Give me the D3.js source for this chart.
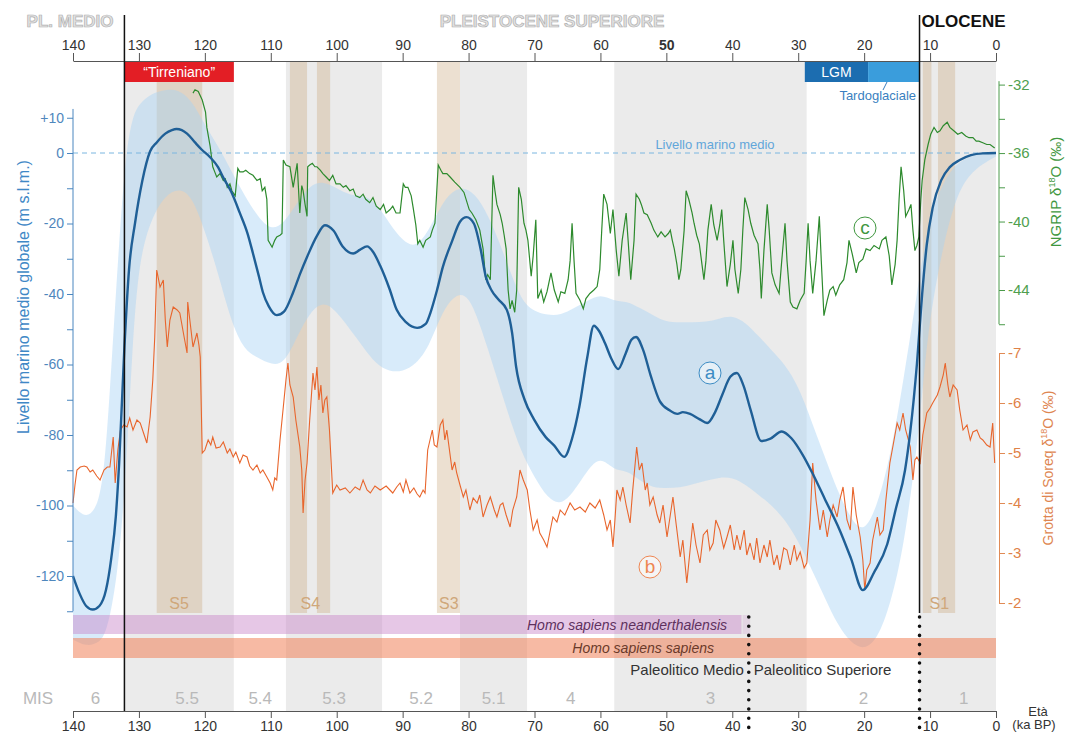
<!DOCTYPE html>
<html>
<head>
<meta charset="utf-8">
<script src="https://cdn.jsdelivr.net/npm/d3@7"></script>
<style>
  body { margin: 0; background: #fff; }
  svg { font-family: "Liberation Sans", Arial, sans-serif; }
</style>
</head>
<body>
<script>
(function(){
    //marine isotope stages: boundaries (ka BP) and labels
    var misBounds = [140, 132.2, 115.6, 107.7, 93.1, 81.3, 71.1, 57.9, 28.7, 11.6, 0];
    var misLabels = ["6", "5.5", "5.4", "5.3", "5.2", "5.1", "4", "3", "2", "1"];
    var misLabelAges = [136.6, 122.7, 111.6, 100.4, 87.2, 76.2, 64.5, 43.3, 20.1, 4.9];

    //sapropel layers (start, end ka) and their labels
    var sapropels = [[127.3, 120.4], [107.1, 104.5], [103.0, 101.0], [84.8, 81.3], [11.1, 9.8], [8.8, 6.2]];
    var sapropelLabels = [["S5", 123.9], ["S4", 104.0], ["S3", 83.0], ["S1", 8.6]];

    //tick labels
    var ageTicks = [140, 130, 120, 110, 100, 90, 80, 70, 60, 50, 40, 30, 20, 10, 0];
    var seaTicks = [10, 0, -10, -20, -30, -40, -50, -60, -70, -80, -90, -100, -110, -120, -130];
    var ngripTicks = [-32, -34, -36, -38, -40, -42, -44, -46];
    var soreqTicks = [-7, -6, -5, -4, -3, -2];

    //(a) global mean sea level, m  [age, m]
    var seaLevel = [
        [140,-120],[139,-125],[138,-128.5],[137,-129.5],[136,-128.5],[135,-124],[134.2,-115],[133.5,-103],
        [133,-88],[132.2,-55],[131.5,-33],[130.6,-20],[129.5,-8],[128.3,0.5],[127.3,3],[126,5.5],[125,6.5],
        [124.3,6.8],[123.5,6.5],[122.7,5.5],[121.5,3],[120.5,1],[119.2,-1.2],[118,-4],[117.2,-7],[116,-11],
        [114.7,-17],[113.5,-23],[112.7,-28.5],[111.8,-35],[111.2,-39.5],[110.3,-43.5],[109.1,-46],[108,-45],
        [106.6,-39.5],[105.5,-34],[104.5,-29.5],[103,-23.5],[101.8,-20.5],[100.5,-22],[99.1,-26.5],[97.5,-28.5],
        [96.5,-27.5],[95.4,-26.5],[94.5,-28],[93.4,-32],[92,-38.5],[90.9,-44.5],[89.5,-48],[87.8,-49.6],
        [86.5,-48.5],[85.8,-45.4],[84.8,-39],[83.9,-32.3],[82.5,-25],[81.3,-19.5],[80.3,-18.2],[79.2,-20],
        [78.2,-27],[77.4,-35],[76.5,-39],[75.5,-41.5],[74.2,-44.5],[73.4,-51],[72.8,-60.5],[71.5,-70],
        [70.1,-75.5],[68.3,-80.6],[67,-83],[65.5,-86.2],[64.3,-81],[63.2,-72],[62,-58],[61,-49],[60.2,-50.5],
        [59.3,-54],[58.3,-58.5],[57.3,-61.3],[56.2,-57],[55.3,-53],[54.6,-52.2],[53.5,-56],[52.4,-63],
        [51,-70.4],[49.5,-73],[48.3,-74],[47.5,-73.5],[46.4,-74],[45,-75.5],[43.8,-76.6],[42.6,-73.5],
        [41.5,-68.5],[40.3,-63.5],[39.3,-62.4],[38.3,-66],[37.2,-73],[35.6,-81.7],[34.2,-81],[32.5,-79],
        [31,-81],[29.3,-85.7],[27.8,-91],[26,-98],[23.7,-107],[22,-115],[20.2,-124],[18.5,-119],[16.5,-111],
        [15.2,-101],[13.8,-90],[13,-79],[12.0,-60],[11.2,-40],[10.5,-26],[9.6,-15.5],[8.3,-7.7],[7,-4],
        [5.5,-2],[3.8,-0.6],[2,-0.1],[0,0]
    ];

    //sea level uncertainty  [age, upper m, lower m]
    var seaBand = [
        [140,-100,-138],[138,-104,-140],[136,-100,-139],[135,-85,-136],[134,-55,-128],[133,-25,-115],
        [132,0,-92],[131,10,-55],[130,14,-30],[128,17,-18],[126,18,-12],[124,18,-10],[122,15,-12],[120,8,-22],
        [118,2,-34],[116,-5,-48],[114,-12,-56],[112,-18,-58],[110,-22,-60],[108,-20,-60],[106,-14,-52],
        [104,-9,-45],[102,-8,-42],[100,-10,-45],[98,-12,-50],[96,-12,-55],[94,-14,-60],[92,-20,-62],
        [90,-25,-62],[88,-27,-60],[86,-22,-55],[84,-14,-45],[82,-10,-40],[80,-10,-40],[78,-14,-50],
        [76,-22,-62],[74,-32,-74],[72,-42,-85],[70,-45,-92],[68,-46,-98],[66,-46,-100],[64,-44,-96],
        [62,-42,-90],[60,-40,-86],[58,-42,-90],[56,-42,-90],[54,-44,-93],[52,-46,-95],[50,-48,-95],
        [48,-48,-95],[46,-48,-94],[44,-48,-93],[42,-47,-92],[40,-46,-92],[38,-48,-94],[36,-52,-97],
        [34,-56,-100],[32,-60,-104],[30,-66,-110],[28,-76,-118],[26,-86,-126],[24,-96,-134],[22,-104,-139],
        [20,-108,-141],[18,-100,-138],[16,-86,-128],[14,-64,-112],[12,-40,-84],[11,-28,-64],[10,-18,-46],
        [8,-8,-26],[6,-3,-12],[4,-1,-6],[2,0,-3],[0,0,-1]
    ];

    //(b) Soreq cave speleothem d18O, permil  [age, value]
    var soreq = [
        [140.0,-4.0],[139.7,-4.36],[139.4,-4.66],[138.9,-4.72],[138.3,-4.74],[137.9,-4.72],[137.4,-4.62],
        [137.0,-4.66],[136.4,-4.54],[135.9,-4.46],[135.3,-4.66],[134.8,-4.72],[134.4,-4.72],[133.9,-5.32],
        [133.6,-4.4],[133.2,-5.06],[132.8,-5.46],[132.3,-5.56],[131.8,-5.52],[131.4,-5.7],[130.9,-5.46],
        [130.3,-5.66],[129.8,-5.6],[129.2,-5.36],[128.8,-5.2],[128.3,-5.72],[127.9,-6.46],[127.6,-7.32],
        [127.3,-8.66],[126.8,-8.32],[126.3,-8.46],[126.0,-7.66],[125.7,-7.12],[125.3,-7.66],[124.8,-7.92],
        [124.2,-7.86],[123.8,-7.8],[123.2,-7.36],[122.7,-7.0],[122.6,-8.02],[122.1,-7.46],[121.8,-7.12],
        [121.2,-7.4],[120.9,-7.16],[120.7,-6.92],[120.4,-5.0],[120.0,-5.06],[119.5,-5.26],[119.1,-5.16],
        [118.8,-5.32],[118.3,-5.1],[117.7,-5.12],[117.2,-5.22],[116.6,-5.0],[116.2,-5.08],[115.7,-4.92],
        [115.3,-5.02],[114.7,-4.8],[114.2,-4.96],[113.6,-4.92],[113.2,-4.74],[112.7,-4.66],[112.1,-4.76],
        [111.6,-4.6],[111.2,-4.66],[110.6,-4.52],[110.1,-4.4],[109.7,-4.26],[109.4,-4.5],[109.1,-4.46],
        [108.6,-5.26],[108.1,-5.92],[107.7,-6.46],[107.4,-6.8],[107.1,-6.36],[106.6,-6.12],[106.2,-5.66],
        [105.6,-5.12],[105.3,-4.66],[105.1,-3.8],[104.8,-4.46],[104.5,-4.8],[104.1,-5.66],[103.6,-6.6],
        [103.3,-6.26],[103.0,-6.72],[102.7,-6.06],[102.4,-6.36],[102.1,-5.8],[101.8,-6.06],[101.5,-6.12],
        [101.1,-5.46],[100.6,-4.2],[100.0,-4.36],[99.5,-4.26],[98.7,-4.3],[98.0,-4.2],[97.2,-4.32],
        [96.5,-4.26],[96.0,-4.46],[95.4,-4.26],[94.9,-4.2],[94.2,-4.34],[93.4,-4.26],[92.5,-4.34],[91.5,-4.2],
        [90.9,-4.32],[90.4,-4.4],[89.9,-4.22],[89.5,-4.46],[88.9,-4.2],[88.3,-4.3],[87.8,-4.18],[87.4,-4.12],
        [86.9,-4.26],[86.6,-4.2],[86.2,-5.06],[85.5,-5.46],[85.2,-5.16],[84.8,-5.12],[84.3,-5.56],[83.9,-5.66],
        [83.6,-5.26],[83.3,-5.46],[82.8,-4.96],[82.5,-4.66],[82.1,-4.82],[81.8,-4.6],[81.3,-4.36],[80.8,-4.12],
        [80.4,-4.26],[79.8,-3.86],[79.3,-4.1],[78.7,-4.0],[78.3,-4.16],[77.8,-3.72],[77.2,-3.96],[76.7,-4.12],
        [76.1,-3.86],[75.7,-3.72],[75.2,-3.96],[74.8,-4.0],[74.3,-3.76],[73.7,-3.52],[73.3,-3.86],[72.7,-4.12],
        [72.2,-4.66],[71.7,-4.46],[71.1,-4.26],[70.7,-3.86],[70.2,-3.46],[69.6,-3.66],[69.2,-3.4],[68.6,-3.26],
        [68.1,-3.12],[67.6,-3.46],[67.2,-3.72],[66.6,-3.62],[66.1,-3.86],[65.4,-3.76],[64.6,-4.0],[63.9,-3.86],
        [63.1,-3.92],[62.3,-3.82],[61.6,-4.0],[60.8,-3.9],[60.1,-4.06],[59.5,-3.76],[59.0,-3.46],[58.5,-3.66],
        [58.1,-3.12],[57.8,-3.66],[57.5,-4.26],[57.0,-4.06],[56.6,-4.32],[56.1,-3.96],[55.5,-3.6],[55.1,-4.26],
        [54.5,-5.12],[54.1,-4.66],[53.7,-4.8],[53.2,-4.26],[52.9,-4.4],[52.5,-3.96],[52.0,-4.12],[51.4,-3.76],
        [51.0,-3.6],[50.5,-3.96],[49.9,-3.32],[49.4,-3.76],[49.0,-4.12],[48.5,-3.56],[47.9,-2.92],[47.5,-3.26],
        [46.9,-2.4],[46.4,-3.06],[46.0,-3.6],[45.5,-3.16],[44.9,-2.8],[44.4,-3.36],[43.8,-3.46],[43.4,-3.06],
        [42.9,-3.2],[42.5,-3.66],[41.9,-3.46],[41.3,-3.1],[40.8,-3.32],[40.3,-3.56],[39.7,-3.06],[39.3,-3.36],
        [38.8,-3.06],[38.2,-3.46],[37.8,-2.96],[37.3,-3.2],[36.7,-2.86],[36.3,-3.3],[35.8,-2.8],[35.2,-3.16],
        [34.7,-2.92],[34.3,-3.26],[33.7,-2.76],[33.2,-2.96],[32.8,-2.66],[32.2,-3.1],[31.7,-3.06],[31.2,-2.76],
        [30.6,-3.16],[30.2,-2.86],[29.7,-3.02],[29.1,-2.7],[28.7,-2.8],[28.2,-3.66],[27.8,-4.8],[27.3,-4.06],
        [26.7,-3.46],[26.2,-3.86],[25.6,-3.32],[25.2,-3.66],[24.7,-3.96],[24.1,-3.72],[23.7,-4.06],[23.2,-4.32],
        [22.6,-3.66],[22.1,-3.46],[21.7,-4.32],[21.2,-3.76],[20.6,-3.32],[20.2,-2.86],[19.9,-2.26],[19.6,-2.66],
        [19.1,-2.8],[18.7,-3.26],[18.0,-3.72],[17.6,-3.36],[17.1,-3.46],[16.7,-4.06],[16.1,-4.8],[15.6,-5.16],
        [15.0,-5.6],[14.6,-5.46],[14.1,-5.8],[13.7,-5.46],[13.0,-5.12],[12.6,-4.46],[12.3,-4.86],[12.0,-4.92],
        [11.5,-4.8],[11.1,-5.36],[10.5,-5.8],[10.0,-5.9],[9.6,-6.0],[8.9,-6.16],[8.5,-6.32],[8.0,-6.56],
        [7.7,-6.8],[7.3,-6.36],[7.0,-6.12],[6.5,-6.36],[5.9,-6.26],[5.5,-5.86],[5.0,-5.46],[4.4,-5.56],
        [3.9,-5.26],[3.5,-5.42],[2.9,-5.46],[2.4,-5.3],[2.0,-5.26],[1.4,-5.16],[0.9,-5.12],[0.5,-5.6],[0.2,-4.8]
    ];

    //(c) NGRIP ice core d18O, permil  [age, value]
    var ngrip = [
        [121.8,-32.5],[121.5,-32.3],[121.0,-32.4],[120.4,-32.9],[119.9,-33.6],[119.7,-34.5],[119.2,-35.6],
        [118.8,-36.8],[118.5,-37.1],[118.2,-37.4],[117.7,-37.2],[117.2,-37.6],[116.9,-37.5],[116.6,-38.0],
        [116.2,-37.8],[115.9,-38.2],[115.4,-38.5],[115.0,-36.9],[114.7,-37.1],[114.2,-37.1],[113.8,-37.0],
        [113.2,-37.2],[112.7,-37.3],[112.1,-37.6],[111.6,-37.5],[111.3,-38.2],[110.9,-38.0],[110.6,-38.7],
        [110.4,-41.1],[110.1,-41.3],[109.8,-41.5],[109.4,-41.1],[109.1,-40.9],[108.6,-40.8],[108.3,-40.7],
        [108.1,-36.4],[107.7,-36.7],[107.1,-36.8],[106.6,-38.0],[106.3,-37.3],[106.0,-36.6],[105.6,-39.5],
        [105.3,-37.9],[105.1,-38.2],[104.8,-39.0],[104.5,-39.7],[104.4,-36.8],[104.1,-36.7],[103.7,-36.6],
        [103.3,-36.8],[103.0,-36.8],[102.5,-37.0],[102.1,-37.2],[101.6,-37.4],[101.1,-37.6],[100.6,-37.3],
        [100.1,-37.8],[99.5,-37.8],[99.0,-38.0],[98.6,-37.9],[98.0,-38.2],[97.5,-38.1],[97.1,-38.5],
        [96.5,-38.6],[96.0,-38.4],[95.6,-38.7],[95.0,-38.9],[94.5,-38.6],[94.0,-39.1],[93.4,-39.3],
        [92.9,-39.0],[92.5,-39.5],[91.9,-39.3],[91.5,-39.1],[91.0,-39.5],[90.4,-39.5],[89.9,-37.8],
        [89.6,-38.0],[89.2,-38.0],[88.7,-38.5],[88.4,-39.2],[88.0,-40.2],[87.7,-41.3],[87.4,-41.1],
        [86.9,-41.5],[86.5,-41.1],[85.8,-40.9],[85.5,-40.5],[85.1,-40.1],[84.6,-36.7],[84.2,-37.0],
        [83.9,-37.2],[83.3,-37.2],[82.8,-37.4],[82.1,-37.7],[81.3,-38.0],[80.7,-38.3],[79.9,-39.3],
        [79.5,-39.5],[78.9,-39.9],[78.3,-40.5],[77.8,-41.6],[77.4,-43.4],[77.1,-43.1],[76.7,-43.4],
        [76.3,-37.3],[76.0,-38.2],[75.7,-39.0],[75.2,-39.6],[74.9,-40.1],[74.6,-40.8],[74.3,-41.6],
        [74.0,-44.0],[73.7,-45.1],[73.4,-44.6],[73.0,-45.3],[72.7,-44.0],[72.4,-38.0],[72.0,-38.7],
        [71.6,-40.1],[71.3,-40.5],[71.0,-41.1],[70.5,-43.2],[70.2,-42.0],[69.8,-39.9],[69.5,-44.5],
        [69.0,-44.0],[68.6,-44.7],[68.1,-44.1],[67.5,-43.0],[67.0,-44.0],[66.4,-44.7],[66.0,-44.1],
        [65.4,-44.2],[64.9,-43.4],[64.6,-42.3],[64.3,-40.1],[64.0,-42.3],[63.7,-44.2],[63.1,-44.6],
        [62.6,-45.1],[62.2,-44.5],[61.6,-44.2],[61.0,-44.0],[60.5,-43.8],[60.1,-42.8],[59.8,-40.5],
        [59.5,-38.4],[59.0,-39.0],[58.5,-40.7],[58.1,-39.3],[57.6,-41.7],[57.2,-43.2],[56.7,-41.1],
        [56.1,-39.5],[55.8,-41.1],[55.4,-43.4],[54.9,-41.1],[54.6,-38.4],[54.1,-38.7],[53.8,-39.0],
        [53.4,-39.5],[52.9,-39.6],[52.3,-40.1],[51.9,-40.5],[51.3,-40.9],[50.8,-40.6],[50.2,-40.9],
        [49.7,-40.7],[49.4,-40.5],[49.1,-41.1],[48.8,-41.6],[48.4,-42.5],[48.1,-43.4],[47.8,-42.8],
        [47.3,-40.5],[47.0,-38.2],[46.6,-38.7],[46.1,-39.5],[45.8,-40.1],[45.4,-40.8],[45.0,-41.3],
        [44.6,-42.5],[44.3,-43.4],[44.0,-42.3],[43.7,-40.5],[43.2,-39.0],[42.8,-40.2],[42.3,-41.1],
        [41.9,-40.2],[41.6,-39.3],[41.3,-41.1],[40.8,-43.8],[40.3,-42.5],[39.9,-41.1],[39.6,-42.8],
        [39.1,-44.2],[38.7,-42.8],[38.4,-40.5],[38.1,-38.6],[37.6,-39.3],[37.2,-40.1],[36.7,-40.8],
        [36.1,-41.3],[35.8,-42.8],[35.6,-44.5],[35.2,-41.7],[34.7,-39.0],[34.4,-40.5],[34.0,-43.0],
        [33.5,-43.7],[32.9,-44.2],[32.5,-42.3],[32.0,-40.1],[31.7,-42.3],[31.2,-44.7],[30.8,-45.0],
        [30.2,-45.1],[29.7,-44.6],[29.1,-44.2],[28.8,-42.3],[28.5,-40.1],[28.2,-42.3],[27.8,-44.2],
        [27.3,-42.3],[26.8,-39.7],[26.5,-42.3],[26.1,-45.5],[25.6,-44.6],[25.2,-44.0],[24.7,-43.8],
        [24.3,-44.3],[23.7,-43.7],[23.1,-43.4],[22.6,-42.4],[22.3,-41.1],[21.8,-41.9],[21.2,-43.0],
        [20.8,-42.4],[20.2,-42.2],[19.7,-41.6],[19.1,-41.7],[18.5,-41.4],[17.7,-41.6],[17.3,-41.1],
        [16.7,-40.9],[16.2,-42.0],[15.8,-43.7],[15.3,-42.5],[15.0,-41.1],[14.7,-38.7],[14.4,-36.8],
        [14.0,-38.2],[13.7,-39.7],[13.2,-39.3],[12.9,-39.0],[12.6,-40.5],[12.3,-41.7],[12.0,-41.4],
        [11.7,-40.9],[11.4,-38.7],[11.2,-37.6],[10.8,-36.4],[10.3,-35.5],[9.9,-34.9],[9.4,-34.5],
        [8.9,-34.8],[8.5,-34.7],[8.0,-34.4],[7.4,-34.2],[7.0,-34.5],[6.4,-34.7],[5.8,-34.9],[5.2,-34.8],
        [4.6,-35.0],[4.1,-35.1],[3.5,-35.1],[3.0,-35.3],[2.6,-35.3],[2.0,-35.4],[1.4,-35.5],[0.9,-35.5],
        [0.2,-35.7]
    ];

    //age boundaries used for the annotations
    var tirrenianoAges = [132.2, 115.6];
    var lgmAges = [29.0, 19.4, 11.6];
    var neanderthalEnd = 38.6;
    var paleoBoundary = 37.5;
    var holoceneStart = 11.6;

    window.onload = setChart();

    function setChart(){
        var width = 1066,
            height = 733,
            topAxisY = 61,
            bottomAxisY = 711;

        var svg = d3.select("body")
            .append("svg")
            .attr("width", width)
            .attr("height", height);

        //scales
        var x = d3.scaleLinear().domain([140, 0]).range([73, 996]);
        var ySea = d3.scaleLinear().domain([0, -120]).range([153, 576]);
        var yNgrip = d3.scaleLinear().domain([-32, -44]).range([84.6, 290]);
        var ySoreq = d3.scaleLinear().domain([-7, -2]).range([353, 603]);

        //MIS background bands (grey for odd stages)
        svg.selectAll(".mis")
            .data(misLabels)
            .enter()
            .append("rect")
            .attr("class", "mis")
            .attr("x", function(d, i){ return x(misBounds[i]); })
            .attr("width", function(d, i){ return x(misBounds[i + 1]) - x(misBounds[i]); })
            .attr("y", topAxisY)
            .attr("height", bottomAxisY - topAxisY)
            .style("fill", function(d, i){ return i % 2 == 1 ? "#ebebeb" : "#ffffff"; });

        //sapropel bands
        svg.selectAll(".sapropel")
            .data(sapropels)
            .enter()
            .append("rect")
            .attr("class", "sapropel")
            .attr("x", function(d){ return x(d[0]); })
            .attr("width", function(d){ return x(d[1]) - x(d[0]); })
            .attr("y", topAxisY)
            .attr("height", 613 - topAxisY)
            .style("fill", "#c9a67c")
            .style("opacity", 0.35);

        //sea level uncertainty band
        var band = d3.area()
            .x(function(d){ return x(d[0]); })
            .y0(function(d){ return ySea(d[2]); })
            .y1(function(d){ return ySea(d[1]); })
            .curve(d3.curveBasis);

        svg.append("path")
            .datum(seaBand)
            .attr("d", band)
            .style("fill", "#a9d2f3")
            .style("opacity", 0.45);

        //mean sea level dashed line
        svg.append("line")
            .attr("x1", x(140)).attr("x2", x(0))
            .attr("y1", ySea(0)).attr("y2", ySea(0))
            .style("stroke", "#7ab6e0")
            .style("stroke-width", 1)
            .style("stroke-dasharray", "5,4");

        svg.append("text")
            .attr("x", 715)
            .attr("y", 149)
            .attr("text-anchor", "middle")
            .style("font-size", "13px")
            .style("fill", "#62a6da")
            .text("Livello marino medio");

        //Soreq curve
        var soreqLine = d3.line()
            .x(function(d){ return x(d[0]); })
            .y(function(d){ return ySoreq(d[1]); });

        svg.append("path")
            .datum(soreq)
            .attr("d", soreqLine)
            .style("fill", "none")
            .style("stroke", "#e8652c")
            .style("stroke-width", 1.1);

        //NGRIP curve
        var ngripLine = d3.line()
            .x(function(d){ return x(d[0]); })
            .y(function(d){ return yNgrip(d[1]); });

        svg.append("path")
            .datum(ngrip)
            .attr("d", ngripLine)
            .style("fill", "none")
            .style("stroke", "#2d8a2d")
            .style("stroke-width", 1.2);

        //sea level curve
        var seaLine = d3.line()
            .x(function(d){ return x(d[0]); })
            .y(function(d){ return ySea(d[1]); })
            .curve(d3.curveMonotoneX);

        svg.append("path")
            .datum(seaLevel)
            .attr("d", seaLine)
            .style("fill", "none")
            .style("stroke", "#1f5f96")
            .style("stroke-width", 2.4);

        //human species bars
        svg.append("rect")
            .attr("x", x(140)).attr("width", x(neanderthalEnd) - x(140))
            .attr("y", 615).attr("height", 19)
            .style("fill", "rgba(200,130,200,0.45)");
        svg.append("rect")
            .attr("x", x(neanderthalEnd) + 1).attr("width", x(37.3) - x(neanderthalEnd) - 1)
            .attr("y", 615).attr("height", 19)
            .style("fill", "rgba(200,130,200,0.22)");
        svg.append("text")
            .attr("x", 727).attr("y", 630)
            .attr("text-anchor", "end")
            .style("font-size", "14px").style("font-style", "italic")
            .style("fill", "#5e315e")
            .text("Homo sapiens neanderthalensis");

        svg.append("rect")
            .attr("x", x(140)).attr("width", x(0) - x(140))
            .attr("y", 638).attr("height", 20)
            .style("fill", "rgba(240,130,90,0.55)");
        svg.append("text")
            .attr("x", 714).attr("y", 653)
            .attr("text-anchor", "end")
            .style("font-size", "14px").style("font-style", "italic")
            .style("fill", "#6b3a2a")
            .text("Homo sapiens sapiens");

        svg.append("text")
            .attr("x", x(paleoBoundary) - 5).attr("y", 675)
            .attr("text-anchor", "end")
            .style("font-size", "15px").style("fill", "#333")
            .text("Paleolitico Medio");
        svg.append("text")
            .attr("x", x(paleoBoundary) + 5).attr("y", 675)
            .style("font-size", "15px").style("fill", "#333")
            .text("Paleolitico Superiore");

        //sapropel labels
        svg.selectAll(".slabel")
            .data(sapropelLabels)
            .enter()
            .append("text")
            .attr("class", "slabel")
            .attr("x", function(d){ return x(d[1]); })
            .attr("y", 609)
            .attr("text-anchor", "middle")
            .style("font-size", "16px")
            .style("fill", "#cfa77a")
            .text(function(d){ return d[0]; });

        //MIS labels
        svg.selectAll(".mlabel")
            .data(misLabels)
            .enter()
            .append("text")
            .attr("class", "mlabel")
            .attr("x", function(d, i){ return x(misLabelAges[i]); })
            .attr("y", 704)
            .attr("text-anchor", "middle")
            .style("font-size", "17px")
            .style("fill", "#b9b9b9")
            .text(function(d){ return d; });
        svg.append("text")
            .attr("x", 38).attr("y", 704)
            .attr("text-anchor", "middle")
            .style("font-size", "17px").style("fill", "#b9b9b9")
            .text("MIS");

        //Tirreniano and LGM bars on the top axis
        svg.append("rect")
            .attr("x", x(tirrenianoAges[0])).attr("width", x(tirrenianoAges[1]) - x(tirrenianoAges[0]))
            .attr("y", topAxisY).attr("height", 21)
            .style("fill", "#e31e25");
        svg.append("text")
            .attr("x", (x(tirrenianoAges[0]) + x(tirrenianoAges[1])) / 2).attr("y", 77)
            .attr("text-anchor", "middle")
            .style("font-size", "14px").style("fill", "#fff")
            .text("\u201CTirreniano\u201D");

        svg.append("rect")
            .attr("x", x(lgmAges[0])).attr("width", x(lgmAges[1]) - x(lgmAges[0]))
            .attr("y", topAxisY).attr("height", 21)
            .style("fill", "#1c6db0");
        svg.append("rect")
            .attr("x", x(lgmAges[1])).attr("width", x(lgmAges[2]) - x(lgmAges[1]))
            .attr("y", topAxisY).attr("height", 21)
            .style("fill", "#3a9ddc");
        svg.append("text")
            .attr("x", (x(lgmAges[0]) + x(lgmAges[1])) / 2).attr("y", 77)
            .attr("text-anchor", "middle")
            .style("font-size", "14px").style("fill", "#fff")
            .text("LGM");
        svg.append("line")
            .attr("x1", 887).attr("y1", 82).attr("x2", 883).attr("y2", 90)
            .style("stroke", "#3a7fc0").style("stroke-width", 1);
        svg.append("text")
            .attr("x", 916).attr("y", 100)
            .attr("text-anchor", "end")
            .style("font-size", "13px").style("fill", "#3a7fc0")
            .text("Tardoglaciale");

        //age axes
        var topAxis = svg.append("g")
            .attr("class", "axis")
            .attr("transform", "translate(0," + topAxisY + ")")
            .call(d3.axisTop(x).tickValues(ageTicks).tickSize(8).tickSizeOuter(0));
        topAxis.selectAll("text").filter(function(d){ return d == 50; })
            .style("font-weight", "bold");

        svg.append("g")
            .attr("class", "axis")
            .attr("transform", "translate(0," + bottomAxisY + ")")
            .call(d3.axisBottom(x).tickValues(ageTicks).tickSize(7).tickSizeOuter(0));

        svg.selectAll(".axis").attr("font-family", null);
        svg.selectAll(".axis text").style("font-size", "14px").style("fill", "#333");
        svg.selectAll(".axis path, .axis line").style("stroke", "#555");

        svg.append("text")
            .attr("x", 1038).attr("y", 716)
            .attr("text-anchor", "middle")
            .style("font-size", "13px").style("fill", "#333")
            .text("Età");
        svg.append("text")
            .attr("x", 1034).attr("y", 729)
            .attr("text-anchor", "middle")
            .style("font-size", "13px").style("fill", "#333")
            .text("(ka BP)");

        //sea level axis
        var leftAxis = svg.append("g")
            .attr("transform", "translate(" + x(140) + ",0)")
            .call(d3.axisLeft(ySea)
                .tickValues(seaTicks)
                .tickSize(6)
                .tickSizeOuter(0)
                .tickFormat(function(d){
                    if (d == 10) return "+10";
                    return d % 20 == 0 ? String(d) : "";
                }));
        leftAxis.attr("font-family", null);
        leftAxis.select(".domain").attr("d", "M0," + ySea(12.5) + "V" + ySea(-130));
        leftAxis.selectAll("path, line").style("stroke", "#4a86bf");
        leftAxis.selectAll("text").style("font-size", "14px").style("fill", "#4f87bd");

        svg.append("text")
            .attr("transform", "translate(29,297) rotate(-90)")
            .attr("text-anchor", "middle")
            .style("font-size", "16px").style("fill", "#3f88c6")
            .text("Livello marino medio globale (m s.l.m.)");

        //NGRIP axis
        var ngripAxis = svg.append("g")
            .attr("transform", "translate(999,0)")
            .call(d3.axisRight(yNgrip)
                .tickValues(ngripTicks)
                .tickSize(6)
                .tickSizeOuter(0)
                .tickFormat(function(d){ return (d + 32) % 4 == 0 ? String(d) : ""; }));
        ngripAxis.attr("font-family", null);
        ngripAxis.select(".domain").attr("d", "M0," + yNgrip(-31.8) + "V" + yNgrip(-46));
        ngripAxis.selectAll("path, line").style("stroke", "#4a9a4a");
        ngripAxis.selectAll("text").style("font-size", "15px").style("fill", "#4f9f4f");

        var ngripTitle = svg.append("text")
            .attr("transform", "translate(1061,192) rotate(-90)")
            .attr("text-anchor", "middle")
            .style("font-size", "15px").style("fill", "#3f973f");
        ngripTitle.append("tspan").text("NGRIP \u03B4");
        ngripTitle.append("tspan").attr("dy", -6).style("font-size", "9px").text("18");
        ngripTitle.append("tspan").attr("dy", 6).text("O (\u2030)");

        //Soreq axis
        var soreqAxis = svg.append("g")
            .attr("transform", "translate(999,0)")
            .call(d3.axisRight(ySoreq)
                .tickValues(soreqTicks)
                .tickSize(6)
                .tickSizeOuter(0)
                .tickFormat(function(d){ return String(d); }));
        soreqAxis.attr("font-family", null);
        soreqAxis.selectAll("path, line").style("stroke", "#e08a55");
        soreqAxis.selectAll("text").style("font-size", "15px").style("fill", "#df8248");

        var soreqTitle = svg.append("text")
            .attr("transform", "translate(1053,468) rotate(-90)")
            .attr("text-anchor", "middle")
            .style("font-size", "14px").style("fill", "#de8550");
        soreqTitle.append("tspan").text("Grotta di Soreq  \u03B4");
        soreqTitle.append("tspan").attr("dy", -6).style("font-size", "9px").text("18");
        soreqTitle.append("tspan").attr("dy", 6).text("O (\u2030)");

        //epoch boundary lines
        svg.append("line")
            .attr("x1", x(132.2)).attr("x2", x(132.2))
            .attr("y1", 15).attr("y2", bottomAxisY)
            .style("stroke", "#111").style("stroke-width", 1.5);
        svg.append("line")
            .attr("x1", x(holoceneStart)).attr("x2", x(holoceneStart))
            .attr("y1", 15).attr("y2", 613)
            .style("stroke", "#111").style("stroke-width", 1.5);

        //dotted lines for cultural boundaries
        [holoceneStart, paleoBoundary].forEach(function(age){
            svg.append("line")
                .attr("x1", x(age)).attr("x2", x(age))
                .attr("y1", 617).attr("y2", 733)
                .style("stroke", "#111")
                .style("stroke-width", 3.6)
                .style("stroke-linecap", "round")
                .style("stroke-dasharray", "0,9.2");
        });

        //epoch names
        svg.append("text")
            .attr("x", 70).attr("y", 27)
            .attr("text-anchor", "middle")
            .style("font-size", "17px").style("font-weight", "bold")
            .style("fill", "#e2e2e2").style("stroke", "#b0b0b0").style("stroke-width", 0.7)
            .text("PL. MEDIO");
        svg.append("text")
            .attr("x", 552).attr("y", 27)
            .attr("text-anchor", "middle")
            .style("font-size", "17px").style("font-weight", "bold")
            .style("fill", "#e2e2e2").style("stroke", "#b0b0b0").style("stroke-width", 0.7)
            .text("PLEISTOCENE SUPERIORE");
        svg.append("text")
            .attr("x", x(holoceneStart) + 2).attr("y", 27)
            .style("font-size", "17px").style("font-weight", "bold")
            .style("fill", "#111")
            .text("OLOCENE");

        //series labels in circles
        var tags = [["a", 710, 373, "#3d8cc4"], ["b", 650, 567, "#ee8652"], ["c", 865, 228, "#3f973f"]];
        tags.forEach(function(t){
            svg.append("circle")
                .attr("cx", t[1]).attr("cy", t[2]).attr("r", 11)
                .style("fill", "rgba(255,255,255,0.5)")
                .style("stroke", t[3]).style("stroke-width", 1);
            svg.append("text")
                .attr("x", t[1]).attr("y", t[2] + 6)
                .attr("text-anchor", "middle")
                .style("font-size", "19px").style("fill", t[3])
                .text(t[0]);
        });
    };
})();
</script>
</body>
</html>
